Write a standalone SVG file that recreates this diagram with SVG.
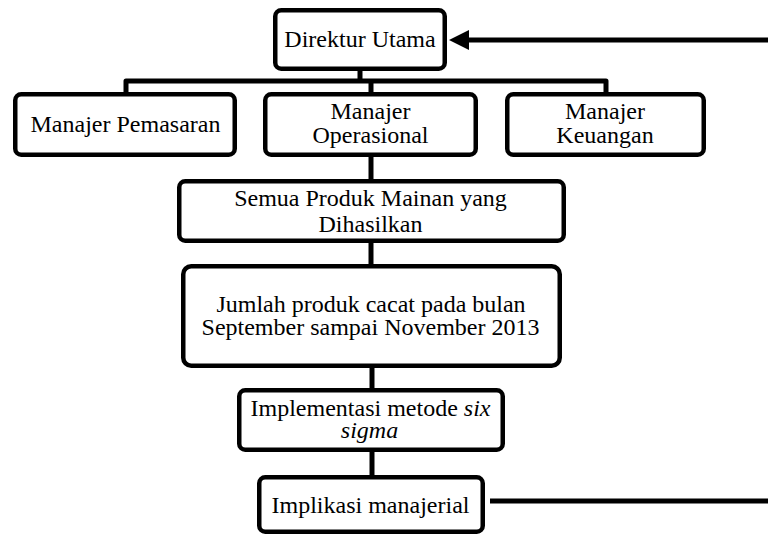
<svg xmlns="http://www.w3.org/2000/svg" width="768" height="535" viewBox="0 0 768 535">
  <style>
    .box { fill: #ffffff; stroke: #000000; stroke-width: 4.5; }
    .lbl { font-family: "Liberation Serif", "Times New Roman", serif; font-size: 24px; fill: #000000; text-anchor: middle; }
    .it { font-style: italic; }
    .wire { fill: none; stroke: #000000; stroke-width: 5; stroke-linejoin: round; }
  </style>
  <defs>
    <marker id="arrowhead" markerUnits="userSpaceOnUse" markerWidth="21" markerHeight="21" refX="0" refY="10" orient="auto">
      <path d="M0,0 L20,10 L0,20 Z" fill="#000000"/>
    </marker>
  </defs>
  <rect width="768" height="535" fill="#ffffff"/>

  <g id="connectors">
    <path class="wire" d="M360,70 V81"/>
    <path class="wire" d="M126,94 V81 H606 V94"/>
    <path class="wire" d="M371,81 V94"/>
    <path class="wire" d="M371,156 V181"/>
    <path class="wire" d="M371,242 V266"/>
    <path class="wire" d="M372,367 V390"/>
    <path class="wire" d="M372,451 V477"/>
    <path class="wire" d="M768,40 H469" marker-end="url(#arrowhead)"/>
    <path class="wire" d="M490,501 H768"/>
  </g>

  <g id="direktur-utama">
    <rect class="box" x="275.25" y="10.25" width="169.5" height="58.5" rx="6"/>
    <text class="lbl" x="360" y="47">Direktur Utama</text>
  </g>

  <g id="manajer-pemasaran">
    <rect class="box" x="15.25" y="94.25" width="219.5" height="60.5" rx="6"/>
    <text class="lbl" x="125.5" y="132">Manajer Pemasaran</text>
  </g>

  <g id="manajer-operasional">
    <rect class="box" x="265.25" y="94.25" width="210.5" height="60.5" rx="6"/>
    <text class="lbl" x="370.5" y="119">Manajer</text>
    <text class="lbl" x="370.5" y="143">Operasional</text>
  </g>

  <g id="manajer-keuangan">
    <rect class="box" x="507.25" y="94.25" width="196.5" height="60.5" rx="6"/>
    <text class="lbl" x="605" y="119">Manajer</text>
    <text class="lbl" x="605" y="143">Keuangan</text>
  </g>

  <g id="produk-mainan">
    <rect class="box" x="179.25" y="181.25" width="384.5" height="59.5" rx="6"/>
    <text class="lbl" x="370.5" y="206">Semua Produk Mainan yang</text>
    <text class="lbl" x="370.5" y="232">Dihasilkan</text>
  </g>

  <g id="produk-cacat">
    <rect class="box" x="183.25" y="266.25" width="376.5" height="99.5" rx="8"/>
    <text class="lbl" x="371" y="312">Jumlah produk cacat pada bulan</text>
    <text class="lbl" x="370.5" y="335">September sampai November 2013</text>
  </g>

  <g id="six-sigma">
    <rect class="box" x="239.25" y="390.25" width="263.5" height="59.5" rx="6"/>
    <text class="lbl" x="370.5" y="416">Implementasi metode <tspan class="it">six</tspan></text>
    <text class="lbl it" x="369.5" y="438">sigma</text>
  </g>

  <g id="implikasi">
    <rect class="box" x="259.25" y="477.25" width="223.5" height="54.5" rx="6"/>
    <text class="lbl" x="370.5" y="513">Implikasi manajerial</text>
  </g>
</svg>
